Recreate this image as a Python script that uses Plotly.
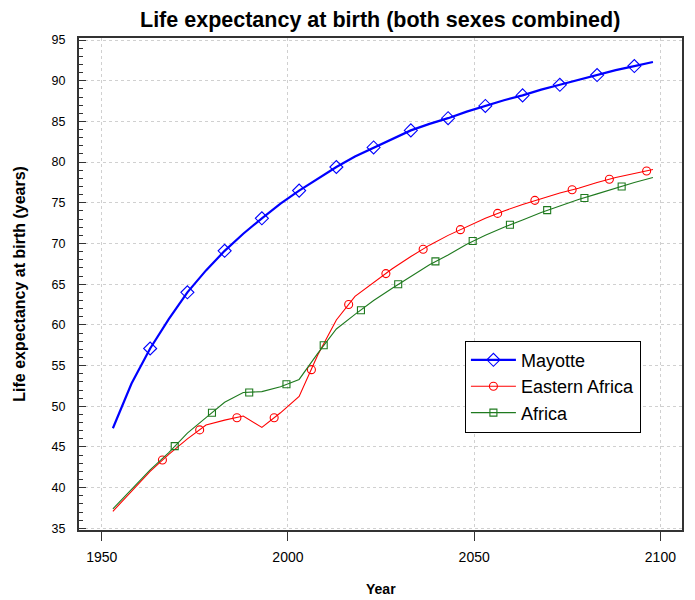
import plotly.graph_objects as go

# -------------------------------------------------
# 数据：5 年一个点 (1950-1955 -> 1953 ...)
# -------------------------------------------------
years = [1953, 1958, 1963, 1968, 1973, 1978, 1983, 1988, 1993, 1998,
         2003, 2008, 2013, 2018, 2023, 2028, 2033, 2038, 2043, 2048,
         2053, 2058, 2063, 2068, 2073, 2078, 2083, 2088, 2093, 2098]

mayotte = [47.3, 52.8, 57.1, 60.7, 64.0, 66.7, 69.1, 71.2, 73.1, 74.9,
           76.5, 78.0, 79.4, 80.7, 81.8, 82.9, 83.9, 84.7, 85.4, 86.2,
           86.9, 87.6, 88.2, 88.9, 89.5, 90.1, 90.7, 91.3, 91.8, 92.3]

eastern_africa = [37.1, 39.5, 42.0, 44.1, 46.0, 47.7, 48.3, 48.8, 47.4, 49.2,
                  51.2, 56.3, 60.6, 63.5, 65.2, 66.9, 68.4, 69.8, 71.0, 72.1,
                  73.1, 74.0, 74.8, 75.5, 76.2, 76.8, 77.5, 78.1, 78.6, 79.1]

africa = [37.4, 39.8, 42.2, 44.3, 46.7, 48.6, 50.5, 51.7, 51.8, 52.4,
          53.3, 56.5, 59.5, 61.3, 63.0, 64.5, 66.0, 67.4, 68.6, 69.9,
          71.0, 72.0, 72.9, 73.8, 74.6, 75.4, 76.1, 76.8, 77.5, 78.1]

# 标记点位置（图上读出，沿线错开摆放）
mayotte_mk_years = [1963, 1973, 1983, 1993, 2003, 2013, 2023, 2033, 2043,
                    2053, 2063, 2073, 2083, 2093]
mayotte_mk = [57.1, 64.0, 69.1, 73.1, 76.5, 79.4, 81.8, 83.9, 85.4,
              86.9, 88.2, 89.5, 90.7, 91.8]

eastern_mk_years = [1966.3, 1976.3, 1986.3, 1996.3, 2006.3, 2016.3, 2026.3,
                    2036.3, 2046.3, 2056.3, 2066.3, 2076.3, 2086.3, 2096.3]
eastern_mk = [43.4, 47.1, 48.6, 48.6, 54.5, 62.5, 66.3,
              69.3, 71.7, 73.7, 75.3, 76.6, 77.9, 78.9]

africa_mk_years = [1969.6, 1979.6, 1989.6, 1999.6, 2009.6, 2019.6, 2029.6,
                   2039.6, 2049.6, 2059.6, 2069.6, 2079.6, 2089.6]
africa_mk = [45.1, 49.2, 51.7, 52.7, 57.5, 61.8, 65.0,
             67.8, 70.3, 72.3, 74.1, 75.6, 77.0]

series = [
    ("Mayotte", mayotte, mayotte_mk_years, mayotte_mk, "#0000ff", 2.2, "diamond-open", 10),
    ("Eastern Africa", eastern_africa, eastern_mk_years, eastern_mk, "#ff0000", 1.1, "circle-open", 8),
    ("Africa", africa, africa_mk_years, africa_mk, "#1f7a1f", 1.1, "square-open", 7),
]

fig = go.Figure()
for name, vals, mk_x, mk_y, clr, lw, sym, ms in series:
    fig.add_trace(go.Scatter(x=years, y=vals, mode="lines",
                             line=dict(color=clr, width=lw), showlegend=False))
    fig.add_trace(go.Scatter(x=mk_x, y=mk_y, mode="markers",
                             marker=dict(symbol=sym, size=ms, color=clr,
                                         line=dict(width=1.1, color=clr)),
                             showlegend=False))
    # 图例用的空 trace
    fig.add_trace(go.Scatter(x=[None], y=[None], mode="lines+markers", name=name,
                             line=dict(color=clr, width=lw),
                             marker=dict(symbol=sym, size=ms, color=clr,
                                         line=dict(width=1.1, color=clr))))

fig.update_layout(
    width=695, height=600,
    paper_bgcolor="white", plot_bgcolor="white",
    margin=dict(l=79, r=13, t=38, b=70),
    font=dict(family="Liberation Sans, Arial, sans-serif", color="black", size=13),
    title=dict(text="<b>Life expectancy at birth (both sexes combined)</b>",
               x=0.547, xanchor="center", y=0.967, yanchor="middle",
               font=dict(size=21.5)),
    legend=dict(x=0.64, y=0.385, xanchor="left", yanchor="top",
                bgcolor="white", bordercolor="black", borderwidth=1,
                font=dict(size=18), itemwidth=45, tracegroupgap=0),
    showlegend=True,
    annotations=[
        dict(text="<b>Year</b>", x=0.5, y=-0.12, xref="paper", yref="paper",
             xanchor="center", yanchor="middle", showarrow=False, font=dict(size=14)),
        dict(text="<b>Life expectancy at birth (years)</b>", x=-0.1, y=0.5,
             xref="paper", yref="paper", xanchor="center", yanchor="middle",
             textangle=-90, showarrow=False, font=dict(size=16)),
    ],
)

fig.update_xaxes(
    range=[1943.9, 2105.8], tickvals=[1950, 2000, 2050, 2100],
    ticks="outside", ticklen=9, tickcolor="#333", automargin=False,
    showline=True, linecolor="#333", linewidth=2, mirror=True,
    showgrid=True, gridcolor="#d0d0d0", griddash="dot", gridwidth=1,
    zeroline=False, tickfont=dict(size=14), ticklabelstandoff=4,
)
fig.update_yaxes(
    range=[34.8, 95.25], dtick=5, tick0=35,
    ticks="inside", ticklen=7, tickcolor="#333", automargin=False,
    minor=dict(dtick=1, ticks="inside", ticklen=4, tickcolor="#333", showgrid=False),
    showline=True, linecolor="#333", linewidth=2, mirror=True,
    showgrid=True, gridcolor="#d0d0d0", griddash="dot", gridwidth=1,
    zeroline=False, tickfont=dict(size=12.5), ticklabelstandoff=9,
)

fig.write_html("out.html", config={"displayModeBar": False},
               post_script="document.body.style.margin='0';")
